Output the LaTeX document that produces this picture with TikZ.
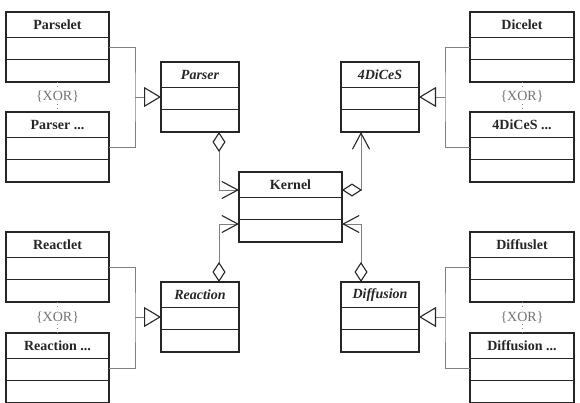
\documentclass[tikz,border=0pt]{standalone}
\usepackage{fontspec}
\setmainfont{Liberation Serif}
\usetikzlibrary{arrows.meta}
\tikzset{
  clsbox/.style={draw=black!85, line width=1.1pt, minimum height=70pt, inner sep=0pt, outer sep=0pt, fill=white},
  divline/.style={draw=black!85, line width=1.1pt},
  clstext/.style={font=\fontsize{14}{16}\selectfont\bfseries, text=black!85, inner sep=0pt},
  abstext/.style={font=\fontsize{14}{16}\selectfont\bfseries\itshape, text=black!85, inner sep=0pt},
  conn/.style={draw=black!50, line width=0.9pt},
  gen/.tip={Triangle[open, length=17pt, width=20pt, color=black!85, line width=1.1pt]},
  nav/.tip={Straight Barb[length=16pt, width=17pt, color=black!85, line width=1.1pt]},
  agg/.tip={Diamond[open, length=20pt, width=13pt, color=black!85, line width=1.1pt]},
  xorline/.style={draw=black!50, line width=0.8pt, dash pattern=on 0.8pt off 3.5pt},
  xortext/.style={font=\fontsize{14}{16}\selectfont, text=black!55, fill=white, inner sep=1pt},
}
\newcommand{\umlcls}[6]{%
  \node[clsbox, minimum width=#4pt, anchor=north west] (#1) at (#2,#3) {};
  \draw[divline] ([yshift=-25.5pt]#1.north west) -- ([yshift=-25.5pt]#1.north east);
  \draw[divline] ([yshift=-47.5pt]#1.north west) -- ([yshift=-47.5pt]#1.north east);
  \node[#6] (#1-t) at ([yshift=-13pt]#1.north) {#5};
}
\begin{document}
\begin{tikzpicture}[x=1pt, y=-1pt]
\useasboundingbox (0,0) rectangle (580,402);
\fill[white] (0,0) rectangle (580,402);
% outer left
\umlcls{Parselet}{6}{12}{103}{Parselet}{clstext}
\umlcls{ParserX}{6}{112}{103}{Parser ...}{clstext}
\umlcls{Reactlet}{6}{232}{103}{Reactlet}{clstext}
\umlcls{ReactionX}{6}{333}{103}{Reaction ...}{clstext}
% outer right
\umlcls{Dicelet}{470}{12}{104}{Dicelet}{clstext}
\umlcls{DicesX}{470}{112}{104}{4DiCeS ...}{clstext}
\umlcls{Diffuslet}{470}{232}{104}{Diffuslet}{clstext}
\umlcls{DiffusionX}{470}{333}{104}{Diffusion ...}{clstext}
% abstract
\umlcls{Parser}{161}{62}{78}{Parser}{abstext}
\umlcls{Reaction}{161}{282}{78}{Reaction}{abstext}
\umlcls{Dices}{341}{62}{78}{4DiCeS}{abstext}
\umlcls{Diffusion}{341}{282}{78}{Diffusion}{abstext}
% kernel
\umlcls{Kernel}{239}{172}{103}{Kernel}{clstext}
% XOR
\draw[xorline] (Parselet.south) -- (ParserX.north) node[midway, xortext] (xor1) {\{XOR\}};
\draw[xorline] (Reactlet.south) -- (ReactionX.north) node[midway, xortext] (xor2) {\{XOR\}};
\draw[xorline] (Dicelet.south) -- (DicesX.north) node[midway, xortext] (xor3) {\{XOR\}};
\draw[xorline] (Diffuslet.south) -- (DiffusionX.north) node[midway, xortext] (xor4) {\{XOR\}};
% generalization junctions
\coordinate (jL1) at (135,97);
\coordinate (jL2) at (135,317);
\coordinate (jR1) at (445,97);
\coordinate (jR2) at (445,317);
\draw[conn] ([yshift=-35pt]Parselet.north east) -| (jL1) |- ([yshift=-35pt]ParserX.north east);
\draw[conn, -{gen}] (jL1) -- (Parser.west);
\draw[conn] ([yshift=-35pt]Reactlet.north east) -| (jL2) |- ([yshift=-35pt]ReactionX.north east);
\draw[conn, -{gen}] (jL2) -- (Reaction.west);
\draw[conn] ([yshift=-35pt]Dicelet.north west) -| (jR1) |- ([yshift=-35pt]DicesX.north west);
\draw[conn, -{gen}] (jR1) -- (Dices.east);
\draw[conn] ([yshift=-35pt]Diffuslet.north west) -| (jR2) |- ([yshift=-35pt]DiffusionX.north west);
\draw[conn, -{gen}] (jR2) -- (Diffusion.east);
% aggregations
\draw[conn, {agg}-{nav}] ([xshift=19pt]Parser.south) |- ([yshift=-18pt]Kernel.north west);
\draw[conn, {agg}-{nav}] ([xshift=19pt]Reaction.north) |- ([yshift=-52pt]Kernel.north west);
\draw[conn, {agg}-{nav}] ([yshift=-18pt]Kernel.north east) -| ([xshift=-19pt]Dices.south);
\draw[conn, {agg}-{nav}] ([xshift=-19pt]Diffusion.north) |- ([yshift=-52pt]Kernel.north east);
\end{tikzpicture}
\end{document}
